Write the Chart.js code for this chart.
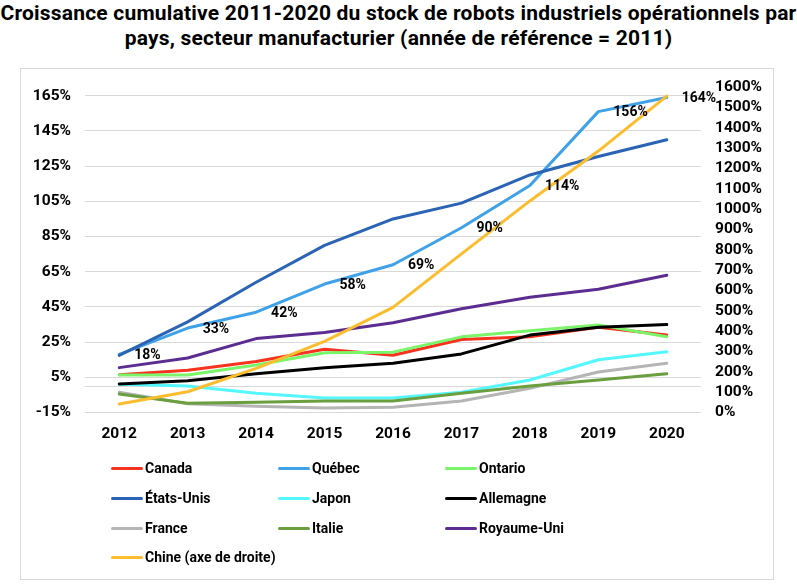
<!DOCTYPE html>
<html>
<head>
<meta charset="utf-8">
<script src="https://cdn.jsdelivr.net/npm/chart.js@4/dist/chart.umd.min.js"></script>
<style>
  html, body { margin:0; padding:0; background:#fff; }
  body { width:797px; height:585px; position:relative; overflow:hidden; font-family: Roboto, "Noto Sans", sans-serif; }
  #title { position:absolute; left:0; top:1px; width:797px; text-align:center; font-weight:700; font-size:21px; line-height:25px; color:#000; letter-spacing:0.2px; white-space:nowrap; }
  #frame { position:absolute; left:20px; top:68px; width:752px; height:510px; border:1px solid #d9d9d9; }
  #wrap { position:absolute; left:0; top:0; width:797px; height:585px; }
  #legend { position:absolute; left:0; top:0; width:797px; height:585px; pointer-events:none; }
  .li { position:absolute; display:flex; align-items:center; height:20px; font-weight:700; font-size:14px; color:#000; white-space:nowrap; }
  .li span.sw { display:inline-block; width:32px; height:3px; border-radius:2px; margin-right:2px; }
</style>
</head>
<body>
<div id="title">Croissance cumulative 2011-2020 du stock de robots industriels opérationnels par<br>pays, secteur manufacturier (année de référence = 2011)</div>
<div id="frame"></div>
<div id="wrap"><canvas id="c" width="797" height="585"></canvas></div>
<div id="legend"></div>
<script>
const years = ['2012','2013','2014','2015','2016','2017','2018','2019','2020'];
const leftTicks = [-15, 0, 5, 25, 45, 65, 85, 105, 125, 145, 165];
const rightTicks = [0,100,200,300,400,500,600,700,800,900,1000,1100,1200,1300,1400,1500,1600];

const canada     = [6.5, 9, 14, 21, 17.5, 26.5, 28, 33.5, 29];
const quebec     = [18, 33, 42, 58, 69, 90, 114, 156, 164];
const ontario    = [6.3, 6.3, 12, 19, 19.3, 28, 31.5, 34.8, 28];
const etatsUnis  = [17.5, 36.5, 59, 80, 95, 104, 120, 130.5, 140];
const japon      = [1, 0, -4, -6.8, -6.8, -3.5, 3.5, 15, 19.5];
const allemagne  = [1.2, 3, 7, 10.5, 13, 18.3, 29, 33.5, 35];
const france     = [-3.5, -10, -11.5, -12.5, -12, -8.5, -1.2, 8, 13];
const italie     = [-4.5, -9.8, -9.2, -8.5, -8.4, -4, 0, 3.5, 7];
const royaumeUni = [10.5, 16, 27, 30.5, 36, 44, 50.5, 55, 63];
const chine      = [42, 102, 217, 350, 517, 780, 1040, 1285, 1555];

const series = [
  {label:'Canada', data:canada, color:'#f5331f', axis:'yL'},
  {label:'Québec', data:quebec, color:'#3fa2e8', axis:'yL'},
  {label:'Ontario', data:ontario, color:'#7af56a', axis:'yL'},
  {label:'États-Unis', data:etatsUnis, color:'#2b63b5', axis:'yL'},
  {label:'Japon', data:japon, color:'#54f6ff', axis:'yL'},
  {label:'Allemagne', data:allemagne, color:'#000000', axis:'yL'},
  {label:'France', data:france, color:'#b5b5b5', axis:'yL'},
  {label:'Italie', data:italie, color:'#6a9e3e', axis:'yL'},
  {label:'Royaume-Uni', data:royaumeUni, color:'#5c2d91', axis:'yL'},
  {label:'Chine (axe de droite)', data:chine, color:'#fbbd2e', axis:'yR'}
];

const n = series.length;
const datasets = series.map((s, i) => ({
  label: s.label, data: s.data, borderColor: s.color, backgroundColor: s.color,
  yAxisID: s.axis, borderWidth: 3, pointRadius: 0, tension: 0, fill: false,
  order: n - i, borderCapStyle: 'round', borderJoinStyle: 'round'
}));

const labelPlugin = {
  id: 'qcLabels',
  afterDatasetsDraw(chart) {
    const meta = chart.getDatasetMeta(1);
    const ctx = chart.ctx;
    ctx.save();
    ctx.font = '700 14px Roboto';
    ctx.fillStyle = '#000';
    ctx.textAlign = 'left';
    ctx.textBaseline = 'middle';
    meta.data.forEach((pt, i) => {
      ctx.fillText(Math.round(quebec[i]) + '%', pt.x + 15, pt.y + 1);
    });
    ctx.restore();
  }
};

const tickFont = {family: 'Roboto', weight: '700', size: 15.5};

new Chart(document.getElementById('c'), {
  type: 'line',
  data: { labels: years, datasets },
  plugins: [labelPlugin],
  options: {
    responsive: false, animation: false,
    layout: { padding: { top: 87, left: 0, right: 0, bottom: 0 } },
    plugins: { legend: { display: false }, title: { display: false }, tooltip: { enabled: false } },
    scales: {
      x: {
        offset: true,
        grid: { display: false, drawTicks: false, offset: true }, border: { display: false },
        ticks: { color: '#000', font: tickFont, padding: 12, maxRotation: 0, autoSkip: false },
        afterFit(s) { s.height = 172.5; }
      },
      yL: {
        position: 'left', min: -15, max: 170,
        grid: { color: '#d9d9d9', lineWidth: 1, drawTicks: false }, border: { display: false },
        ticks: { color: '#000', font: tickFont, padding: 14, autoSkip: false, callback: v => v === 0 ? '' : v + '%' },
        afterBuildTicks(s) { s.ticks = leftTicks.map(v => ({value: v})); },
        afterFit(s) { s.width = 85; }
      },
      yR: {
        position: 'right', min: 0, max: 1600,
        grid: { drawOnChartArea: false, drawTicks: false }, border: { display: false },
        ticks: { color: '#000', font: tickFont, padding: 14, autoSkip: false, callback: v => v + '%' },
        afterBuildTicks(s) { s.ticks = rightTicks.map(v => ({value: v})); },
        afterFit(s) { s.width = 96; }
      }
    }
  }
});

const legend = document.getElementById('legend');
const colX = [111, 278, 445];
const rowY = [468, 498, 528, 557];
series.forEach((s, i) => {
  const d = document.createElement('div');
  d.className = 'li';
  d.style.left = colX[i % 3] + 'px';
  d.style.top = (rowY[Math.floor(i / 3)] - 10) + 'px';
  const sw = document.createElement('span');
  sw.className = 'sw';
  sw.style.background = s.color;
  d.appendChild(sw);
  d.appendChild(document.createTextNode(s.label));
  legend.appendChild(d);
});
</script>
</body>
</html>
